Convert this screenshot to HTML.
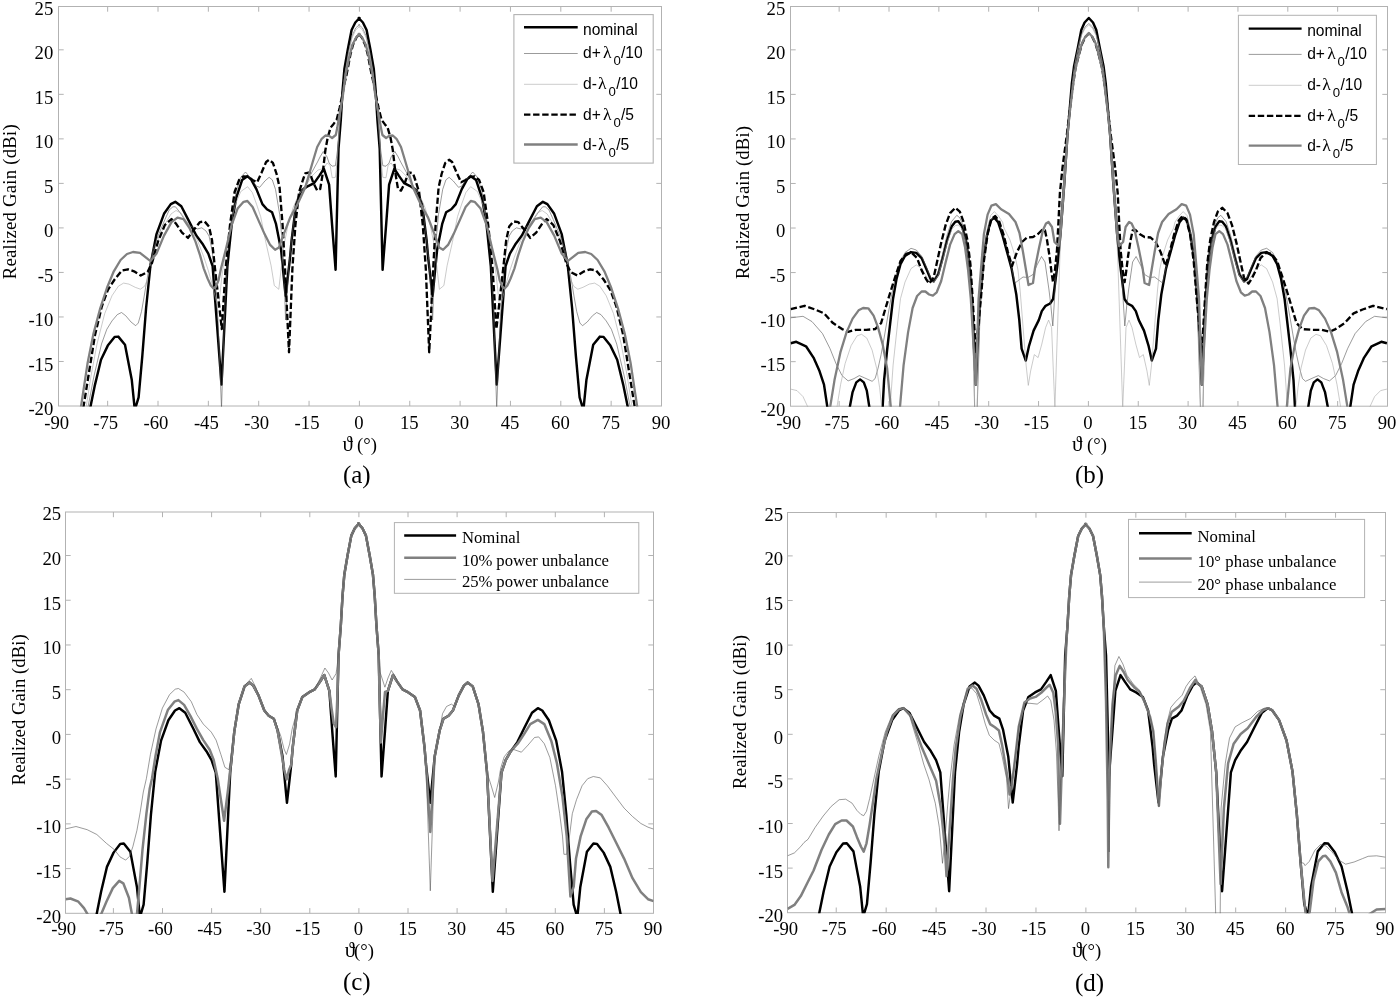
<!DOCTYPE html>
<html lang="en"><head><meta charset="utf-8"><title>Realized gain patterns</title>
<style>
html,body{margin:0;padding:0;background:#fff;}
svg{display:block;filter:grayscale(1)}
text{fill:#000}
.tk{font:18.7px 'Liberation Serif', serif;}
.lb{font:18.7px 'Liberation Serif', serif;}
.th{font:21px 'Liberation Serif', serif;}
.cp{font:25px 'Liberation Serif', serif;}
.lg{font:15.6px 'Liberation Sans', sans-serif;}
.lm{font:17.5px 'Liberation Serif', serif;}
.sb{font:13.2px 'Liberation Sans', sans-serif;}
.lc{font:16.7px 'Liberation Serif', serif;}
</style></head><body>
<svg width="1400" height="999" viewBox="0 0 1400 999">
<rect width="1400" height="999" fill="#fff"/>
<rect x="58.5" y="6.5" width="603" height="399.5" fill="none" stroke="#b2b2b2" stroke-width="1"/>
<path d="M107.65 406v-5.2M107.65 6.5v5.2M158 406v-5.2M158 6.5v5.2M208.35 406v-5.2M208.35 6.5v5.2M258.7 406v-5.2M258.7 6.5v5.2M309.05 406v-5.2M309.05 6.5v5.2M359.4 406v-5.2M359.4 6.5v5.2M409.75 406v-5.2M409.75 6.5v5.2M460.1 406v-5.2M460.1 6.5v5.2M510.45 406v-5.2M510.45 6.5v5.2M560.8 406v-5.2M560.8 6.5v5.2M611.15 406v-5.2M611.15 6.5v5.2M58.5 361.48h5.2M661.5 361.48h-5.2M58.5 316.96h5.2M661.5 316.96h-5.2M58.5 272.43h5.2M661.5 272.43h-5.2M58.5 227.91h5.2M661.5 227.91h-5.2M58.5 183.39h5.2M661.5 183.39h-5.2M58.5 138.87h5.2M661.5 138.87h-5.2M58.5 94.34h5.2M661.5 94.34h-5.2M58.5 49.82h5.2M661.5 49.82h-5.2" stroke="#b2b2b2" stroke-width="1" fill="none"/>
<text x="56.7" y="429" text-anchor="middle" class="tk">-90</text>
<text x="105.65" y="429" text-anchor="middle" class="tk">-75</text>
<text x="156" y="429" text-anchor="middle" class="tk">-60</text>
<text x="206.35" y="429" text-anchor="middle" class="tk">-45</text>
<text x="256.7" y="429" text-anchor="middle" class="tk">-30</text>
<text x="307.05" y="429" text-anchor="middle" class="tk">-15</text>
<text x="359" y="429" text-anchor="middle" class="tk">0</text>
<text x="409.35" y="429" text-anchor="middle" class="tk">15</text>
<text x="459.7" y="429" text-anchor="middle" class="tk">30</text>
<text x="510.05" y="429" text-anchor="middle" class="tk">45</text>
<text x="560.4" y="429" text-anchor="middle" class="tk">60</text>
<text x="610.75" y="429" text-anchor="middle" class="tk">75</text>
<text x="661.1" y="429" text-anchor="middle" class="tk">90</text>
<text x="53.3" y="415.4" text-anchor="end" class="tk">-20</text>
<text x="53.3" y="370.88" text-anchor="end" class="tk">-15</text>
<text x="53.3" y="326.36" text-anchor="end" class="tk">-10</text>
<text x="53.3" y="281.83" text-anchor="end" class="tk">-5</text>
<text x="53.3" y="237.31" text-anchor="end" class="tk">0</text>
<text x="53.3" y="192.79" text-anchor="end" class="tk">5</text>
<text x="53.3" y="148.27" text-anchor="end" class="tk">10</text>
<text x="53.3" y="103.74" text-anchor="end" class="tk">15</text>
<text x="53.3" y="59.22" text-anchor="end" class="tk">20</text>
<text x="53.3" y="14.7" text-anchor="end" class="tk">25</text>
<rect x="790.5" y="6.5" width="597" height="399.7" fill="none" stroke="#b2b2b2" stroke-width="1"/>
<path d="M839.15 406.2v-5.2M839.15 6.5v5.2M889 406.2v-5.2M889 6.5v5.2M938.85 406.2v-5.2M938.85 6.5v5.2M988.7 406.2v-5.2M988.7 6.5v5.2M1038.55 406.2v-5.2M1038.55 6.5v5.2M1088.4 406.2v-5.2M1088.4 6.5v5.2M1138.25 406.2v-5.2M1138.25 6.5v5.2M1188.1 406.2v-5.2M1188.1 6.5v5.2M1237.95 406.2v-5.2M1237.95 6.5v5.2M1287.8 406.2v-5.2M1287.8 6.5v5.2M1337.65 406.2v-5.2M1337.65 6.5v5.2M790.5 361.66h5.2M1387.5 361.66h-5.2M790.5 317.11h5.2M1387.5 317.11h-5.2M790.5 272.57h5.2M1387.5 272.57h-5.2M790.5 228.02h5.2M1387.5 228.02h-5.2M790.5 183.48h5.2M1387.5 183.48h-5.2M790.5 138.93h5.2M1387.5 138.93h-5.2M790.5 94.39h5.2M1387.5 94.39h-5.2M790.5 49.84h5.2M1387.5 49.84h-5.2" stroke="#b2b2b2" stroke-width="1" fill="none"/>
<text x="788.7" y="429" text-anchor="middle" class="tk">-90</text>
<text x="837.15" y="429" text-anchor="middle" class="tk">-75</text>
<text x="887" y="429" text-anchor="middle" class="tk">-60</text>
<text x="936.85" y="429" text-anchor="middle" class="tk">-45</text>
<text x="986.7" y="429" text-anchor="middle" class="tk">-30</text>
<text x="1036.55" y="429" text-anchor="middle" class="tk">-15</text>
<text x="1088" y="429" text-anchor="middle" class="tk">0</text>
<text x="1137.85" y="429" text-anchor="middle" class="tk">15</text>
<text x="1187.7" y="429" text-anchor="middle" class="tk">30</text>
<text x="1237.55" y="429" text-anchor="middle" class="tk">45</text>
<text x="1287.4" y="429" text-anchor="middle" class="tk">60</text>
<text x="1337.25" y="429" text-anchor="middle" class="tk">75</text>
<text x="1387.1" y="429" text-anchor="middle" class="tk">90</text>
<text x="785.3" y="415.6" text-anchor="end" class="tk">-20</text>
<text x="785.3" y="371.06" text-anchor="end" class="tk">-15</text>
<text x="785.3" y="326.51" text-anchor="end" class="tk">-10</text>
<text x="785.3" y="281.97" text-anchor="end" class="tk">-5</text>
<text x="785.3" y="237.42" text-anchor="end" class="tk">0</text>
<text x="785.3" y="192.88" text-anchor="end" class="tk">5</text>
<text x="785.3" y="148.33" text-anchor="end" class="tk">10</text>
<text x="785.3" y="103.79" text-anchor="end" class="tk">15</text>
<text x="785.3" y="59.24" text-anchor="end" class="tk">20</text>
<text x="785.3" y="14.7" text-anchor="end" class="tk">25</text>
<rect x="65.5" y="512" width="588" height="401.3" fill="none" stroke="#b2b2b2" stroke-width="1"/>
<path d="M113.4 913.3v-5.2M113.4 512v5.2M162.5 913.3v-5.2M162.5 512v5.2M211.6 913.3v-5.2M211.6 512v5.2M260.7 913.3v-5.2M260.7 512v5.2M309.8 913.3v-5.2M309.8 512v5.2M358.9 913.3v-5.2M358.9 512v5.2M408 913.3v-5.2M408 512v5.2M457.1 913.3v-5.2M457.1 512v5.2M506.2 913.3v-5.2M506.2 512v5.2M555.3 913.3v-5.2M555.3 512v5.2M604.4 913.3v-5.2M604.4 512v5.2M65.5 868.58h5.2M653.5 868.58h-5.2M65.5 823.86h5.2M653.5 823.86h-5.2M65.5 779.13h5.2M653.5 779.13h-5.2M65.5 734.41h5.2M653.5 734.41h-5.2M65.5 689.69h5.2M653.5 689.69h-5.2M65.5 644.97h5.2M653.5 644.97h-5.2M65.5 600.24h5.2M653.5 600.24h-5.2M65.5 555.52h5.2M653.5 555.52h-5.2" stroke="#b2b2b2" stroke-width="1" fill="none"/>
<text x="63.7" y="935" text-anchor="middle" class="tk">-90</text>
<text x="111.4" y="935" text-anchor="middle" class="tk">-75</text>
<text x="160.5" y="935" text-anchor="middle" class="tk">-60</text>
<text x="209.6" y="935" text-anchor="middle" class="tk">-45</text>
<text x="258.7" y="935" text-anchor="middle" class="tk">-30</text>
<text x="307.8" y="935" text-anchor="middle" class="tk">-15</text>
<text x="358.5" y="935" text-anchor="middle" class="tk">0</text>
<text x="407.6" y="935" text-anchor="middle" class="tk">15</text>
<text x="456.7" y="935" text-anchor="middle" class="tk">30</text>
<text x="505.8" y="935" text-anchor="middle" class="tk">45</text>
<text x="554.9" y="935" text-anchor="middle" class="tk">60</text>
<text x="604" y="935" text-anchor="middle" class="tk">75</text>
<text x="653.1" y="935" text-anchor="middle" class="tk">90</text>
<text x="61.1" y="922.7" text-anchor="end" class="tk">-20</text>
<text x="61.1" y="877.98" text-anchor="end" class="tk">-15</text>
<text x="61.1" y="833.26" text-anchor="end" class="tk">-10</text>
<text x="61.1" y="788.53" text-anchor="end" class="tk">-5</text>
<text x="61.1" y="743.81" text-anchor="end" class="tk">0</text>
<text x="61.1" y="699.09" text-anchor="end" class="tk">5</text>
<text x="61.1" y="654.37" text-anchor="end" class="tk">10</text>
<text x="61.1" y="609.64" text-anchor="end" class="tk">15</text>
<text x="61.1" y="564.92" text-anchor="end" class="tk">20</text>
<text x="61.1" y="520.2" text-anchor="end" class="tk">25</text>
<rect x="787.5" y="512.5" width="598" height="400.2" fill="none" stroke="#b2b2b2" stroke-width="1"/>
<path d="M836.23 912.7v-5.2M836.23 512.5v5.2M886.17 912.7v-5.2M886.17 512.5v5.2M936.1 912.7v-5.2M936.1 512.5v5.2M986.03 912.7v-5.2M986.03 512.5v5.2M1035.97 912.7v-5.2M1035.97 512.5v5.2M1085.9 912.7v-5.2M1085.9 512.5v5.2M1135.83 912.7v-5.2M1135.83 512.5v5.2M1185.77 912.7v-5.2M1185.77 512.5v5.2M1235.7 912.7v-5.2M1235.7 512.5v5.2M1285.63 912.7v-5.2M1285.63 512.5v5.2M1335.57 912.7v-5.2M1335.57 512.5v5.2M787.5 868.1h5.2M1385.5 868.1h-5.2M787.5 823.5h5.2M1385.5 823.5h-5.2M787.5 778.9h5.2M1385.5 778.9h-5.2M787.5 734.3h5.2M1385.5 734.3h-5.2M787.5 689.7h5.2M1385.5 689.7h-5.2M787.5 645.1h5.2M1385.5 645.1h-5.2M787.5 600.5h5.2M1385.5 600.5h-5.2M787.5 555.9h5.2M1385.5 555.9h-5.2" stroke="#b2b2b2" stroke-width="1" fill="none"/>
<text x="785.7" y="934.6" text-anchor="middle" class="tk">-90</text>
<text x="834.23" y="934.6" text-anchor="middle" class="tk">-75</text>
<text x="884.17" y="934.6" text-anchor="middle" class="tk">-60</text>
<text x="934.1" y="934.6" text-anchor="middle" class="tk">-45</text>
<text x="984.03" y="934.6" text-anchor="middle" class="tk">-30</text>
<text x="1033.97" y="934.6" text-anchor="middle" class="tk">-15</text>
<text x="1085.5" y="934.6" text-anchor="middle" class="tk">0</text>
<text x="1135.43" y="934.6" text-anchor="middle" class="tk">15</text>
<text x="1185.37" y="934.6" text-anchor="middle" class="tk">30</text>
<text x="1235.3" y="934.6" text-anchor="middle" class="tk">45</text>
<text x="1285.23" y="934.6" text-anchor="middle" class="tk">60</text>
<text x="1335.17" y="934.6" text-anchor="middle" class="tk">75</text>
<text x="1385.1" y="934.6" text-anchor="middle" class="tk">90</text>
<text x="783.1" y="922.1" text-anchor="end" class="tk">-20</text>
<text x="783.1" y="877.5" text-anchor="end" class="tk">-15</text>
<text x="783.1" y="832.9" text-anchor="end" class="tk">-10</text>
<text x="783.1" y="788.3" text-anchor="end" class="tk">-5</text>
<text x="783.1" y="743.7" text-anchor="end" class="tk">0</text>
<text x="783.1" y="699.1" text-anchor="end" class="tk">5</text>
<text x="783.1" y="654.5" text-anchor="end" class="tk">10</text>
<text x="783.1" y="609.9" text-anchor="end" class="tk">15</text>
<text x="783.1" y="565.3" text-anchor="end" class="tk">20</text>
<text x="783.1" y="520.7" text-anchor="end" class="tk">25</text>
<text transform="translate(16.2 201.8) rotate(-90)" text-anchor="middle" class="lb" textLength="155" lengthAdjust="spacing">Realized Gain (dBi)</text>
<text transform="translate(748.6 202.5) rotate(-90)" text-anchor="middle" class="lb" textLength="153" lengthAdjust="spacing">Realized Gain (dBi)</text>
<text transform="translate(24.8 709.8) rotate(-90)" text-anchor="middle" class="lb" textLength="151" lengthAdjust="spacing">Realized Gain (dBi)</text>
<text transform="translate(745.8 712) rotate(-90)" text-anchor="middle" class="lb" textLength="154" lengthAdjust="spacing">Realized Gain (dBi)</text>
<text x="342.6" y="450.7" class="th">ϑ</text><text x="357" y="450.7" class="lb">(°)</text>
<text x="1072.1" y="450.7" class="th">ϑ</text><text x="1087.1" y="450.7" class="lb">(°)</text>
<text x="344.8" y="957.4" class="th">ϑ</text><text x="354.1" y="957.4" class="lb">(°)</text>
<text x="1072.1" y="957" class="th">ϑ</text><text x="1081.4" y="957" class="lb">(°)</text>
<text x="356.8" y="482.9" text-anchor="middle" class="cp">(a)</text>
<text x="1089.6" y="482.9" text-anchor="middle" class="cp">(b)</text>
<text x="356.8" y="990.4" text-anchor="middle" class="cp">(c)</text>
<text x="1089.6" y="991" text-anchor="middle" class="cp">(d)</text>
<clipPath id="cla"><rect x="58.5" y="6.5" width="603" height="400.1"/></clipPath>
<g clip-path="url(#cla)" fill="none" stroke-linejoin="round">
<path d="M90.2 408L95 384.6L101 359.8L107.8 345.6L114.6 336.9L118.3 336.6L125 344.8L131.8 380.1L134.8 410L138.6 397.4L142.3 356.1L146.1 308L150.5 265L156.5 234.1L164 213.8L170.8 204.1L175.3 201.8L181.3 206.3L189.5 222.1L196.3 235.6L203 244.6L208.3 253.6L212.6 266L221.5 384.6L227.4 266L231.6 225.1L236.1 198.1L242.1 180.1L247.4 176.3L251.1 179.3L256.4 189.1L262.4 204.1L266.9 209.3L272.1 212.3L275.9 223.6L281.1 250L285.6 296L290 258L291.6 240.1L296.1 204.1L301.4 190.6L308.1 186.1L314.1 183.1L319.4 175.6L323.9 168.8L329.1 184.6L332.1 225.1L335.6 269.8L338.5 149L340.8 120L342.6 90L344.4 69L347.8 49.5L351.6 30L355.3 22.5L359.5 18L358.7 18L362.9 22.5L366.6 30L370.4 49.5L373.8 69L375.6 90L377.4 120L379.7 149L382.6 269.8L386.1 225.1L389.1 184.6L394.3 168.8L398.8 175.6L404.1 183.1L410.1 186.1L416.8 190.6L422.1 204.1L426.6 240.1L428.2 258L432.6 296L437.1 250L442.3 223.6L446.1 212.3L451.3 209.3L455.8 204.1L461.8 189.1L467.1 179.3L470.8 176.3L476.1 180.1L482.1 198.1L486.6 225.1L490.8 266L496.7 384.6L505.6 266L509.9 253.6L515.2 244.6L521.9 235.6L528.7 222.1L536.9 206.3L542.9 201.8L547.4 204.1L554.2 213.8L561.7 234.1L567.7 265L572.1 308L575.9 356.1L579.6 397.4L583.4 410L586.4 380.1L593.2 344.8L599.9 336.6L603.6 336.9L610.4 345.6L617.2 359.8L623.2 384.6L628 408" stroke="#000" stroke-width="2.45"/>
<path d="M87.8 408L94 376L101.5 344L106.8 329.3L112 320.9L117.3 314.6L121.5 312.5L125.7 315.7L131 322L135.7 325.7L138.3 323L141.5 311.5L144.1 296.8L146.2 284.1L149.5 266L153 250L158 236L165 219.4L169.2 210L172.9 206.8L175.5 206.8L179.7 212.1L183.9 218.4L190 226L197.6 228.9L201.8 227.8L206 231L209.1 236.2L212 250L215 275L218 320L221.5 408L225 300L228 250L232 215L236.5 190L241 177L245.5 172L251.3 178.9L256.5 186.2L259.7 187.3L264.9 181L269.1 177.3L272.3 179.9L275.5 189.4L277.6 202L279.7 214.6L283 250L285.6 320L289 265L292 235L296 205L301 190L305 186L312 172L317.5 162L320.1 156.8L323.3 151.5L327 156.8L329.1 163L332.2 166.2L335.4 165.7L337.5 150L340 118L342.6 94L345 72L348.5 52L352 36L355.7 28L359.5 24.5L358.7 24.5L362.5 28L366.2 36L369.7 52L373.2 72L375.6 94L378.2 118L380.7 150L382.8 165.7L386 166.2L389.1 163L391.2 156.8L394.9 151.5L398.1 156.8L400.7 162L406.2 172L413.2 186L417.2 190L422.2 205L426.2 235L429.2 265L432.6 320L435.2 250L438.5 214.6L440.6 202L442.7 189.4L445.9 179.9L449.1 177.3L453.3 181L458.5 187.3L461.7 186.2L466.9 178.9L472.7 172L477.2 177L481.7 190L486.2 215L490.2 250L493.2 300L496.7 408L500.2 320L503.2 275L506.2 250L509.1 236.2L512.2 231L516.4 227.8L520.6 228.9L528.2 226L534.3 218.4L538.5 212.1L542.7 206.8L545.3 206.8L549 210L553.2 219.4L560.2 236L565.2 250L568.7 266L572 284.1L574.1 296.8L576.7 311.5L579.9 323L582.5 325.7L587.2 322L592.5 315.7L596.7 312.5L600.9 314.6L606.2 320.9L611.4 329.3L616.7 344L624.2 376L630.4 408" stroke="#585858" stroke-width="0.6"/>
<path d="M86 408L91 376L97 344L104.7 313.6L112 295.7L118.4 286.2L123.6 283.1L128.9 284.1L135.2 287.3L140.4 289.2L144.6 286.2L147.3 279.9L150 266L154 251L159 238L165 224L171 214L176 210.5L181 213L187 222L192 231L197.6 240.5L203.9 257.3L208.1 269.9L212.3 284.6L216 300L218.5 308L222 275L227 245L231 222L235.5 204L240.8 191.5L247.6 186.7L252.3 192.5L256.5 204.1L260.7 216.7L265.9 242.6L271.1 265.7L274.3 285.5L278.8 289.3L281 270L284 245L288 225L293 208L299 194L305 187L312 176L318 170L323.8 168.4L327 163L330.1 165.2L332.2 177.8L335.4 177.3L337.2 160L339.5 125L342 98L345 74L348.5 53L352 38L355.7 30L359.5 26.5L358.7 26.5L362.5 30L366.2 38L369.7 53L373.2 74L376.2 98L378.7 125L381 160L382.8 177.3L386 177.8L388.1 165.2L391.2 163L394.4 168.4L400.2 170L406.2 176L413.2 187L419.2 194L425.2 208L430.2 225L434.2 245L437.2 270L439.4 289.3L443.9 285.5L447.1 265.7L452.3 242.6L457.5 216.7L461.7 204.1L465.9 192.5L470.6 186.7L477.4 191.5L482.7 204L487.2 222L491.2 245L496.2 275L499.7 308L502.2 300L505.9 284.6L510.1 269.9L514.3 257.3L520.6 240.5L526.2 231L531.2 222L537.2 213L542.2 210.5L547.2 214L553.2 224L559.2 238L564.2 251L568.2 266L570.9 279.9L573.6 286.2L577.8 289.2L583 287.3L589.3 284.1L594.6 283.1L599.8 286.2L606.2 295.7L613.5 313.6L621.2 344L627.2 376L632.2 408" stroke="#a8a8a8" stroke-width="0.6"/>
<path d="M83.3 408L95 335L101.8 306.5L107.8 290L114.6 279.5L122 270.5L128 269.3L134 271.3L140.8 275.5L147.6 272L152 263L158 241.6L164.8 225.1L171.5 219.1L176 223.6L182 232.6L188 237.9L194 229.6L200 222.1L204.6 221.4L209 226.6L212 240.1L215 268.6L221.8 329L225.6 268.6L230 225L234.6 192L239.1 180L243.6 176.3L248.1 176.8L252.6 180L257.1 182.3L261.6 172.5L266.1 162L269.1 159.8L272.9 162.8L276.6 174L279.6 187.6L282.6 225L285 268.6L289 352.3L292.4 268.6L295.4 225L299.1 192L302.9 180L305.2 173.3L309.7 172.3L313.4 183L317.2 190.6L320.2 189L322.4 175.6L325.4 150L327.6 138L330.6 127.6L333.6 123.9L336.6 120L339.6 108L342.4 95L344.3 84L346.5 75L348.8 63L350.3 55L352.9 45L356.4 37.5L359.5 33.8L358.7 33.8L361.8 37.5L365.3 45L367.9 55L369.4 63L371.7 75L373.9 84L375.8 95L378.6 108L381.6 120L384.6 123.9L387.6 127.6L390.6 138L392.8 150L395.8 175.6L398 189L401 190.6L404.8 183L408.5 172.3L413 173.3L415.3 180L419.1 192L422.8 225L425.8 268.6L429.2 352.3L433.2 268.6L435.6 225L438.6 187.6L441.6 174L445.3 162.8L449.1 159.8L452.1 162L456.6 172.5L461.1 182.3L465.6 180L470.1 176.8L474.6 176.3L479.1 180L483.6 192L488.2 225L492.6 268.6L496.4 329L503.2 268.6L506.2 240.1L509.2 226.6L513.6 221.4L518.2 222.1L524.2 229.6L530.2 237.9L536.2 232.6L542.2 223.6L546.7 219.1L553.4 225.1L560.2 241.6L566.2 263L570.6 272L577.4 275.5L584.2 271.3L590.2 269.3L596.2 270.5L603.6 279.5L610.4 290L616.4 306.5L623.2 335L634.9 408" stroke="#000" stroke-width="2.35" stroke-dasharray="6.4 2.7"/>
<path d="M80.8 408L87.5 363.6L93.5 333.6L100.3 308L107 287.8L113.8 271.3L120.6 260L127 254L133 252L140 252.9L150.5 261.1L156.5 253.6L164 235.6L171.5 222.1L177.5 217.6L183.5 219.1L189.5 228.1L195.5 241.6L200 255.1L203.8 268.6L207.6 278.5L210.8 285.5L213.5 288.5L216 286.5L218.6 280L221 268.6L226.3 247.6L231.6 225L237.6 208.6L243.6 201.8L247.4 201L252.6 207L258.6 220.6L264.6 234.1L269.9 244.6L275.1 249.8L278.9 247.6L282.6 237.1L290.1 217.6L297.6 204.1L305.2 187.6L312.7 162L317.2 147L321.7 138.8L325.4 135.5L329.1 135.9L332.1 138L335.8 135L337.3 127.6L339.6 114L342.6 97.6L345.6 75L349.3 57L352.3 45L356.1 37.5L359.5 33.8L358.7 33.8L362.1 37.5L365.9 45L368.9 57L372.6 75L375.6 97.6L378.6 114L380.9 127.6L382.4 135L386.1 138L389.1 135.9L392.8 135.5L396.5 138.8L401 147L405.5 162L413 187.6L420.6 204.1L428.1 217.6L435.6 237.1L439.3 247.6L443.1 249.8L448.3 244.6L453.6 234.1L459.6 220.6L465.6 207L470.8 201L474.6 201.8L480.6 208.6L486.6 225L491.9 247.6L497.2 268.6L499.6 280L502.2 286.5L504.7 288.5L507.4 285.5L510.6 278.5L514.4 268.6L518.2 255.1L522.7 241.6L528.7 228.1L534.7 219.1L540.7 217.6L546.7 222.1L554.2 235.6L561.7 253.6L567.7 261.1L578.2 252.9L585.2 252L591.2 254L597.6 260L604.4 271.3L611.2 287.8L617.9 308L624.7 333.6L630.7 363.6L637.4 408" stroke="#808080" stroke-width="2.3"/>
</g>
<clipPath id="clb"><rect x="790.5" y="6.5" width="597" height="400.3"/></clipPath>
<g clip-path="url(#clb)" fill="none" stroke-linejoin="round">
<path d="M790.7 343.3L796.3 341.8L806 346.3L813.5 357.6L819.5 371.1L824 384.6L827.5 408L838 440L849.6 408L852.6 392.1L856.3 382.4L860.1 379.4L863.8 382.4L866.8 390.6L869.5 408L876 440L882.6 408L884.1 380.1L887.1 350.1L890.1 324L893 299L896.5 279L900.5 264.1L905 255.9L911 252.1L916.3 252.9L921.6 258.1L926.8 270.1L930.6 279.1L933.6 281.4L938.1 274.6L942.6 258.1L947.1 240.1L951.6 226.6L955.3 221.8L958.3 221.3L962.1 226.6L965.9 240.1L968.9 261.1L971.9 298.6L975.8 384.6L980.1 298.6L983.1 261.1L986.9 235.6L990.6 220.6L994.4 217.6L998.1 222.1L1002.6 235.6L1007.1 252.1L1011.6 268.6L1016.3 294.5L1019.3 320.1L1021.6 348.6L1025.8 360.6L1029.1 345.6L1033.6 330.6L1038.8 320.1L1041.8 311.1L1045.6 305.8L1050.1 303.5L1053.1 299L1055.5 280L1058 260L1060.5 234L1064.4 182L1067.5 135L1069.3 114L1071.8 84L1074.1 66L1077.8 48L1081.3 30L1084.6 22.5L1088.8 18L1093 22.5L1096.3 30L1099.8 48L1103.5 66L1105.8 84L1108.3 114L1110.1 135L1113.2 182L1117.1 234L1119.6 260L1122.1 280L1124.5 299L1127.5 303.5L1132 305.8L1135.8 311.1L1138.8 320.1L1144 330.6L1148.5 345.6L1151.8 360.6L1156 348.6L1158.3 320.1L1161.3 294.5L1166 268.6L1170.5 252.1L1175 235.6L1179.5 222.1L1183.2 217.6L1187 220.6L1190.7 235.6L1194.5 261.1L1197.5 298.6L1201.8 384.6L1205.7 298.6L1208.7 261.1L1211.7 240.1L1215.5 226.6L1219.3 221.3L1222.3 221.8L1226 226.6L1230.5 240.1L1235 258.1L1239.5 274.6L1244 281.4L1247 279.1L1250.8 270.1L1256 258.1L1261.3 252.9L1266.6 252.1L1272.6 255.9L1277.1 264.1L1281.1 279L1284.6 299L1287.5 324L1290.5 350.1L1293.5 380.1L1295 408L1301.6 440L1308.1 408L1310.8 390.6L1313.8 382.4L1317.5 379.4L1321.3 382.4L1325 392.1L1328 408L1339.6 440L1350.1 408L1353.6 384.6L1358.1 371.1L1364.1 357.6L1371.6 346.3L1381.3 341.8L1386.9 343.3" stroke="#000" stroke-width="2.45"/>
<path d="M790.7 317.8L803 316.3L812 321.6L822.5 333.6L830 348.6L836 363.6L842 375.6L848.1 380.9L854 378.6L859.3 375.6L864.6 377.9L872.1 381.3L875.1 378.6L878.1 368.1L881.1 354.6L884.1 338L887.5 318L891 298L895 279L900 262L905 252.5L911 248.3L916.3 250L921.6 256L926.8 268L930.6 277.5L933.6 280L938.1 272L942.6 254L947.1 235L951.6 221.5L956.8 215.3L960 218L963.5 227L967 242L970 264L972.3 298.6L974.6 408L977.2 408L980.5 298.6L983.5 261.1L987.2 235L991 220L994.8 216.6L998.5 221L1003 234.5L1007.5 251L1011.5 267L1015 283L1023 277L1028 277.5L1033 274.5L1037 265L1041.5 256.5L1045 262L1047 276L1049 290L1050.8 305L1052.8 326L1054.6 297.5L1056.8 260L1059 235L1062 200L1066 150L1069.3 112L1072 86L1074.5 66L1078 48L1081.5 34L1085 27L1088.8 23.5L1092.6 27L1096.1 34L1099.6 48L1103.1 66L1105.6 86L1108.3 112L1111.6 150L1115.6 200L1118.6 235L1120.8 260L1123 297.5L1124.8 326L1126.8 305L1128.6 290L1130.6 276L1132.6 262L1136.1 256.5L1140.6 265L1144.6 274.5L1149.6 277.5L1154.6 277L1162.6 283L1166.1 267L1170.1 251L1174.6 234.5L1179.1 221L1182.8 216.6L1186.6 220L1190.4 235L1194.1 261.1L1197.1 298.6L1200.4 408L1203 408L1205.3 298.6L1207.6 264L1210.6 242L1214.1 227L1217.6 218L1220.8 215.3L1226 221.5L1230.5 235L1235 254L1239.5 272L1244 280L1247 277.5L1250.8 268L1256 256L1261.3 250L1266.6 248.3L1272.6 252.5L1277.6 262L1282.6 279L1286.6 298L1290.1 318L1293.5 338L1296.5 354.6L1299.5 368.1L1302.5 378.6L1305.5 381.3L1313 377.9L1318.3 375.6L1323.6 378.6L1329.5 380.9L1335.6 375.6L1341.6 363.6L1347.6 348.6L1355.1 333.6L1365.6 321.6L1374.6 316.3L1386.9 317.8" stroke="#585858" stroke-width="0.6"/>
<path d="M790.7 389.1L797 390.6L803 396.6L808.3 408L822 440L836.8 408L840.6 384.6L845.1 363.6L851.1 345.6L857.1 335.8L861.6 334.3L866.8 338.1L872.1 350.1L876.6 368.1L879.6 387.6L881.8 408L886 440L890.1 408L893.1 365.1L897.6 323.1L900.5 298.6L905 282.1L911 268.6L916.3 264.9L921.6 268.6L926.1 276.1L930.6 282.1L934 282L938.5 275L943 259L947.5 241.5L952 229L955.5 225.5L958.5 225L962 229L965.5 241L968.7 261.1L971.7 298.6L974.8 408L977 408L980.3 298.6L983.3 258L987 230L990.6 215.5L994.4 211.6L998.5 216L1002.6 222.1L1004 228L1010 240L1015 256L1018 270L1020.1 290L1023.1 327.6L1026.1 365.1L1028.3 385.4L1030.6 371.1L1034.3 354.6L1038.1 357.6L1041.8 344.1L1045.6 327.6L1048.6 320.1L1051.6 327.6L1053.1 365.1L1054.9 408L1056.8 350L1058.3 305L1059.8 260L1061 230L1063.5 190L1067 142L1069.5 112L1072 87L1074.5 67L1078 49L1081.5 35.5L1085 28.5L1088.8 25L1092.6 28.5L1096.1 35.5L1099.6 49L1103.1 67L1105.6 87L1108.1 112L1110.6 142L1114.1 190L1116.6 230L1117.8 260L1119.3 305L1120.8 350L1122.7 408L1124.5 365.1L1126 327.6L1129 320.1L1132 327.6L1135.8 344.1L1139.5 357.6L1143.3 354.6L1147 371.1L1149.3 385.4L1151.5 365.1L1154.5 327.6L1157.5 290L1159.6 270L1162.6 256L1167.6 240L1173.6 228L1175 222.1L1179.1 216L1183.2 211.6L1187 215.5L1190.6 230L1194.3 258L1197.3 298.6L1200.6 408L1202.8 408L1205.9 298.6L1208.9 261.1L1212.1 241L1215.6 229L1219.1 225L1222.1 225.5L1225.6 229L1230.1 241.5L1234.6 259L1239.1 275L1243.6 282L1247 282.1L1251.5 276.1L1256 268.6L1261.3 264.9L1266.6 268.6L1272.6 282.1L1277.1 298.6L1280 323.1L1284.5 365.1L1287.5 408L1291.6 440L1295.8 408L1298 387.6L1301 368.1L1305.5 350.1L1310.8 338.1L1316 334.3L1320.5 335.8L1326.5 345.6L1332.5 363.6L1337 384.6L1340.8 408L1355.6 440L1369.3 408L1374.6 396.6L1380.6 390.6L1386.9 389.1" stroke="#a8a8a8" stroke-width="0.6"/>
<path d="M790.7 309.2L804.5 305.8L815 309.5L824 313.3L833 323.1L842.1 329.1L848.1 331.8L855.6 329.8L866.1 329.8L875.1 329.1L881.1 323.1L885.6 308L890.1 293L894.5 279.1L900.5 261.1L906.5 253.6L911.8 252.9L917.1 258.1L921.6 270.1L926.1 279.1L929.1 283.6L933.6 277.6L936.6 264.1L941.1 243.1L945.6 225.1L950.1 213.1L955.3 207.8L959.8 211.6L963.6 222.1L967.4 240.1L970.4 264.1L972.6 298.6L975.8 352L980.9 298.6L983.9 261.1L987.6 234.1L991.4 219.1L995.1 216.1L998.9 220.6L1003.4 234.1L1007.9 252.1L1012 266L1017 252L1022 242L1027 237.5L1033 237L1038 234L1042 230L1045 230.5L1047 240L1049.5 256L1051.5 272L1053 282L1055 270L1057 250L1058.3 225L1059.9 193L1062.6 166.8L1066.8 135.3L1069.5 112L1072.5 88L1075.5 68L1078.8 55L1082 44L1085.3 37L1088.8 33.5L1092.3 37L1095.6 44L1098.8 55L1102.1 68L1105.1 88L1108.1 112L1110.8 135.3L1115 166.8L1117.7 193L1119.3 225L1120.6 250L1122.6 270L1124.6 282L1126.1 272L1128.1 256L1130.6 240L1132.6 230.5L1135.6 230L1139.6 234L1144.6 237L1150.6 237.5L1155.6 242L1160.6 252L1165.6 266L1169.7 252.1L1174.2 234.1L1178.7 220.6L1182.5 216.1L1186.2 219.1L1190 234.1L1193.7 261.1L1196.7 298.6L1201.8 352L1205 298.6L1207.2 264.1L1210.2 240.1L1214 222.1L1217.8 211.6L1222.3 207.8L1227.5 213.1L1232 225.1L1236.5 243.1L1241 264.1L1244 277.6L1248.5 283.6L1251.5 279.1L1256 270.1L1260.5 258.1L1265.8 252.9L1271.1 253.6L1277.1 261.1L1283.1 279.1L1287.5 293L1292 308L1296.5 323.1L1302.5 329.1L1311.5 329.8L1322 329.8L1329.5 331.8L1335.5 329.1L1344.6 323.1L1353.6 313.3L1362.6 309.5L1373.1 305.8L1386.9 309.2" stroke="#000" stroke-width="2.35" stroke-dasharray="6.4 2.7"/>
<path d="M830 408L834.5 380.1L840.6 351.6L846.6 332.1L852.6 318.6L858.6 310.3L863.1 308L868.3 308.3L873.6 315.6L878.1 327.6L882.6 344.1L887.1 368.1L890.9 408L895 440L899.9 408L903.6 365.1L908.1 332.1L912.6 308L917.1 296L921.6 291.5L925.4 291.5L929.1 294.5L932.9 295.7L936.7 292.3L941.2 281L945.6 262.6L950.1 244.6L954.6 234.1L958.3 231.1L962.1 234.1L965.1 247.6L968.1 270.1L970.8 298.6L975.8 384.6L978.6 298.6L980.9 270.1L983.9 234.1L987.6 214.6L991.4 205.6L995.9 204.1L1001.1 209.3L1009 214L1015.5 222L1019.5 233L1023 252L1026 270L1028.5 285L1033 283L1035 268L1039 248L1043 230L1046 223.5L1048.5 222L1052 227L1054.5 242L1058.5 246L1060.5 234L1064.4 182L1067.5 135L1069.8 112L1072.5 90L1074.8 72L1078.6 55.6L1081.9 43.5L1085.3 36.8L1088.8 33L1092.3 36.8L1095.7 43.5L1099 55.6L1102.8 72L1105.1 90L1107.8 112L1110.1 135L1113.2 182L1117.1 234L1119.1 246L1123.1 242L1125.6 227L1129.1 222L1131.6 223.5L1134.6 230L1138.6 248L1142.6 268L1144.6 283L1149.1 285L1151.6 270L1154.6 252L1158.1 233L1162.1 222L1168.6 214L1176.5 209.3L1181.7 204.1L1186.2 205.6L1190 214.6L1193.7 234.1L1196.7 270.1L1199 298.6L1201.8 384.6L1206.8 298.6L1209.5 270.1L1212.5 247.6L1215.5 234.1L1219.3 231.1L1223 234.1L1227.5 244.6L1232 262.6L1236.4 281L1240.9 292.3L1244.7 295.7L1248.5 294.5L1252.2 291.5L1256 291.5L1260.5 296L1265 308L1269.5 332.1L1274 365.1L1277.7 408L1282.6 440L1286.7 408L1290.5 368.1L1295 344.1L1299.5 327.6L1304 315.6L1309.3 308.3L1314.5 308L1319 310.3L1325 318.6L1331 332.1L1337 351.6L1343.1 380.1L1347.6 408" stroke="#808080" stroke-width="2.3"/>
</g>
<clipPath id="clc"><rect x="65.5" y="512" width="588" height="401.9"/></clipPath>
<g clip-path="url(#clc)" fill="none" stroke-linejoin="round">
<path d="M96.41 915.31L101.09 891.8L106.94 866.89L113.57 852.63L120.2 843.89L123.81 843.59L130.35 851.82L136.98 887.28L139.9 917.32L143.61 904.66L147.22 863.18L150.92 814.86L155.21 771.66L161.06 740.63L168.38 720.23L175.01 710.49L179.39 708.18L185.25 712.7L193.24 728.57L199.87 742.13L206.41 751.17L211.57 760.21L215.77 772.67L224.45 891.8L230.2 772.67L234.29 731.58L238.68 704.46L244.53 686.38L249.7 682.57L253.31 685.58L258.48 695.42L264.33 710.49L268.72 715.71L273.79 718.73L277.49 730.08L282.56 756.6L286.95 802.8L291.24 764.63L292.8 746.65L297.19 710.49L302.36 696.93L308.89 692.41L314.74 689.4L319.91 681.86L324.3 675.03L329.37 690.9L332.29 731.58L335.71 776.49L338.53 655.14L340.78 626.01L342.53 595.88L344.29 574.78L347.6 555.19L351.31 535.61L354.92 528.07L359.01 523.55L358.23 523.55L362.33 528.07L365.94 535.61L369.64 555.19L372.96 574.78L374.71 595.88L376.47 626.01L378.71 655.14L381.54 776.49L384.95 731.58L387.88 690.9L392.95 675.03L397.33 681.86L402.5 689.4L408.35 692.41L414.89 696.93L420.06 710.49L424.44 746.65L426 764.63L430.29 802.8L434.68 756.6L439.75 730.08L443.46 718.73L448.53 715.71L452.92 710.49L458.77 695.42L463.94 685.58L467.54 682.57L472.71 686.38L478.56 704.46L482.95 731.58L487.05 772.67L492.8 891.8L501.48 772.67L505.67 760.21L510.84 751.17L517.37 742.13L524 728.57L532 712.7L537.85 708.18L542.24 710.49L548.87 720.23L556.18 740.63L562.03 771.66L566.32 814.86L570.03 863.18L573.64 904.66L577.34 917.32L580.27 887.28L586.9 851.82L593.43 843.59L597.04 843.89L603.67 852.63L610.3 866.89L616.15 891.8L620.83 915.31" stroke="#000" stroke-width="2.45"/>
<path d="M65.6 899.3L70.4 898.5L78.4 901.7L84 908.1L88 915L94 935L100.8 915L106.4 901.7L112.8 888.1L119.2 880.9L123.3 883.3L128.9 897.7L132.1 915L134.5 935L136.9 915L139.3 888.1L142.5 849.7L146.5 812.8L149.7 788.8L152 778.5L155.5 756L160 732.1L168 709.7L174.4 701.7L178.4 700.1L184.1 704.9L190.5 716.1L196.9 728.9L203.3 740.1L209.7 749.7L213.7 760L217.7 778.5L224.1 820.8L228 790L231.3 760L234.29 731.58L238.68 704.46L244.53 686.38L249.7 682.57L253.31 685.58L258.48 695.42L264.33 710.49L268.72 715.71L273.79 718.73L277.49 730.08L284.3 770L286.6 779.5L289 770L291.24 764.63L292.8 746.65L297.19 710.49L302.36 696.93L308.89 692.41L314.74 689.4L319.91 681.86L324.3 675.03L329.37 690.9L331.5 708L333.7 723.3L336.1 727.3L337.6 690L338.53 655.14L340.78 626.01L342.53 595.88L344.29 574.78L347.6 555.19L351.31 535.61L354.92 528.07L359.01 523.55L358.23 523.55L362.33 528.07L365.94 535.61L369.64 555.19L372.96 574.78L374.71 595.88L376.47 626.01L378.71 655.14L379.6 700L380.9 742.5L383 715L385 692L387.88 690.9L392.95 675.03L397.33 681.86L402.5 689.4L408.35 692.41L414.89 696.93L420.06 710.49L424.44 746.65L426 764.63L430.3 831.9L434.68 756.6L439.75 730.08L443.46 718.73L448.53 715.71L452.92 710.49L458.77 695.42L463.94 685.58L467.54 682.57L472.71 686.38L478.56 704.46L482.95 731.58L487.05 772.67L492.5 881L501.48 772.67L505.67 760.21L510.84 751.17L517.7 743.7L523.3 735.3L530.3 724.1L537.9 719.9L544.3 724.1L551.3 740.9L556.9 763.3L562.5 796.9L566.7 836.1L570.4 896.4L573.7 886.6L576 858.6L580.7 836.1L586.3 819.3L591.9 811.5L596.1 810.9L601.7 815.1L608.7 827.7L615.7 841.7L624.1 858.6L632.5 878.2L640.9 892.2L648 899.2L653.6 901.1" stroke="#808080" stroke-width="2.5"/>
<path d="M65.6 828.9L76 826.5L87.2 829.7L96.8 834.5L106.4 843.3L114.4 849.7L120 856.9L125.7 860.1L129.7 856.1L132.9 846.5L136.9 830.5L140.1 812.8L143.3 792L146.4 778.5L150.4 754.5L156 728.9L162.4 708.1L169.6 694.5L175.2 689.2L178.4 688.5L184.1 692.1L191.3 701.7L196.9 714.5L203.3 724.1L211.3 732.1L216.1 740.1L220.9 754.5L224.9 767.3L228.9 769.7L230.5 760.9L234.29 731.58L238.68 704.46L245.5 684.5L251.3 678.4L256.1 688L258.48 695.42L264.33 710.49L268.72 715.71L273.79 718.73L276 723.3L280.8 736.1L284 748.9L286.4 754.5L289.6 744.1L292 729.7L297.19 710.49L302.36 696.93L308.89 692.41L314.74 689.4L319.9 679L324.9 668L328.5 673L332.1 680L336.1 673.6L338.53 655.14L340.78 626.01L342.53 595.88L344.29 574.78L347.6 555.19L351.31 535.61L354.92 528.07L359.01 523.55L358.23 523.55L362.33 528.07L365.94 535.61L369.64 555.19L372.96 574.78L374.71 595.88L376.47 626.01L378.71 655.14L380 672L384.9 687.2L388 678L391.3 670.4L395 676L397.33 681.86L402.5 689.4L408.35 692.41L414.89 696.93L420.06 710.49L424.44 746.65L426 764.63L430.3 890.8L434.68 756.6L439.75 730.08L442.5 713.7L446.5 706.5L451.4 704.1L454.6 706.5L458.77 695.42L463.94 685.58L467.54 682.57L472.71 686.38L478.56 704.46L482.95 731.58L487.05 772.67L491 785L494.7 797.5L498.4 782L500.7 768.3L504.2 756.8L508.8 751L513.4 749.4L521.4 752.2L528 745.1L534.5 737.5L538.7 736.9L544.3 743.7L549.9 757.7L555.5 785.7L559.7 813.7L562.5 836.1L563.9 854.3L566.7 854.3L569.5 836.1L572.3 813.7L576.5 799.7L582.1 785.7L587.7 778.7L593.3 776.5L600.3 777.9L607.3 785.7L615.7 796.9L624.1 808.1L632.5 816.5L640.9 823.5L648 827.2L653.6 829.1" stroke="#585858" stroke-width="0.6"/>
</g>
<clipPath id="cld"><rect x="787.5" y="512.5" width="598" height="400.8"/></clipPath>
<g clip-path="url(#cld)" fill="none" stroke-linejoin="round">
<path d="M818.94 914.7L823.7 891.26L829.65 866.42L836.39 852.19L843.13 843.48L846.8 843.18L853.45 851.39L860.19 886.75L863.17 916.71L866.94 904.08L870.61 862.71L874.37 814.53L878.74 771.45L884.69 740.5L892.13 720.16L898.87 710.45L903.33 708.14L909.28 712.65L917.41 728.48L924.16 742L930.8 751.02L936.06 760.03L940.32 772.45L949.15 891.26L955 772.45L959.16 731.48L963.63 704.44L969.58 686.4L974.83 682.6L978.5 685.6L983.76 695.42L989.71 710.45L994.17 715.66L999.33 718.66L1003.1 729.98L1008.25 756.43L1012.72 802.51L1017.08 764.44L1018.67 746.51L1023.13 710.45L1028.39 696.92L1035.03 692.41L1040.98 689.41L1046.24 681.9L1050.7 675.08L1055.86 690.91L1058.83 731.48L1062.3 776.26L1065.18 655.25L1067.46 626.2L1069.24 596.15L1071.03 575.11L1074.4 555.58L1078.17 536.04L1081.84 528.53L1086 524.02L1085.21 524.02L1089.38 528.53L1093.05 536.04L1096.81 555.58L1100.19 575.11L1101.97 596.15L1103.76 626.2L1106.04 655.25L1108.91 776.26L1112.38 731.48L1115.36 690.91L1120.52 675.08L1124.98 681.9L1130.23 689.41L1136.18 692.41L1142.83 696.92L1148.09 710.45L1152.55 746.51L1154.13 764.44L1158.5 802.51L1162.96 756.43L1168.12 729.98L1171.89 718.66L1177.04 715.66L1181.51 710.45L1187.46 695.42L1192.71 685.6L1196.38 682.6L1201.64 686.4L1207.59 704.44L1212.05 731.48L1216.22 772.45L1222.07 891.26L1230.89 772.45L1235.16 760.03L1240.41 751.02L1247.06 742L1253.8 728.48L1261.93 712.65L1267.88 708.14L1272.35 710.45L1279.09 720.16L1286.53 740.5L1292.48 771.45L1296.84 814.53L1300.61 862.71L1304.28 904.08L1308.05 916.71L1311.02 886.75L1317.77 851.39L1324.41 843.18L1328.08 843.48L1334.82 852.19L1341.57 866.42L1347.52 891.26L1352.28 914.7" stroke="#000" stroke-width="2.45"/>
<path d="M787.5 908.9L794.4 904.9L800.8 896.1L807.2 883.3L813.6 870.5L821.6 849.7L828.8 834.5L835.2 824.1L841.6 820.5L846.5 820.5L852.9 826.5L856.9 836.9L860.9 846.5L863.7 851.6L866.5 843.3L869.7 824.1L874.5 792L876.4 778.5L881.2 756.1L886.8 732.1L893.2 715.3L898.8 709.3L903.6 708.1L910.8 716.1L917.3 735.3L922.1 748.1L926.9 759.3L931.7 770.5L936.1 780.8L940.9 808L944.9 848.1L946.5 876.1L948.9 840.1L950.8 812L953 778.5L955.7 748.1L960.5 716.1L967.7 688.8L972.5 685.6L976.5 688.8L981.3 700.1L986.1 714.5L990.1 724.1L994.9 727.3L998.9 730.5L1002.1 744.9L1005.3 764.1L1007.7 778.5L1009.6 794.5L1011.5 786L1014 768.1L1018.8 726.5L1024.4 702.5L1030 698.5L1035.6 696.9L1041.2 692.8L1046 688L1049.6 684.8L1053.3 692.8L1055.7 712.1L1058.1 744.1L1059.2 798.5L1060 823.7L1062 760L1064 700L1066.5 640L1067.46 626.2L1069.24 596.15L1071.03 575.11L1074.4 555.58L1078.17 536.04L1081.84 528.53L1086 524.02L1085.21 524.02L1089.38 528.53L1093.05 536.04L1096.81 555.58L1100.19 575.11L1101.97 596.15L1103.76 626.2L1106 700L1107.7 798.5L1108.3 867.3L1109 800L1110.1 752.1L1112.5 704.1L1115.7 675.2L1119.7 665.9L1123.7 672L1127.7 680L1134.1 687.2L1139.7 692L1144.5 701.6L1150.1 716.9L1153.3 731.3L1155.7 760.1L1158.9 806L1161.5 770L1164.5 744L1167.7 723.3L1171.7 712.1L1178.9 706.5L1183.7 700.8L1190 688L1195.5 679.8L1196.38 682.6L1201.64 686.4L1207.59 704.44L1212.05 731.48L1216.22 772.45L1220.6 884L1223.9 808.1L1228.1 763.3L1233.7 743.7L1240.7 733.9L1247.7 728.3L1256.1 717L1263.1 710L1267.88 708.14L1272.35 710.45L1279.09 720.16L1286.53 740.5L1292.48 771.45L1296.84 814.53L1300.61 862.71L1305.7 915L1307.5 935L1309.3 915L1313.5 881L1318.3 861.4L1322.8 856.3L1325.6 855.8L1330.3 861.4L1335.9 872.6L1341.5 892.2L1347.2 906.2L1350 915L1360 928L1369.6 914L1376.6 909.5L1385.5 909" stroke="#808080" stroke-width="2.5"/>
<path d="M787.5 855.8L794.4 852.9L800.8 846.5L804 842.5L808 839.3L815.2 827.3L823.2 816L831.2 806.4L839.2 799.7L845.7 799.2L852.1 803.2L856.9 810.4L860.9 814.4L863.7 815.7L866.5 811.2L869.7 798.4L873.9 778.8L878.8 756.1L885.2 732.1L892.4 714.5L898 708.9L903.6 707.7L909.2 714.5L914 730.5L918.9 746.5L923.7 764.1L928.9 779.2L935.3 803.2L939.3 827.3L942.5 863.3L944.9 840.1L948.1 800L950.1 778.5L954.1 744.9L959.7 714.5L966.9 690.4L971.7 688L976.5 693.6L980.5 706.5L985.3 724.1L989.3 735.3L994.1 740.1L998.9 743.3L1002.1 756.1L1005.3 772.1L1006.6 778.5L1008.5 808.6L1011 790L1014 766L1018.8 726.5L1024.4 703.5L1030 703.3L1037.2 704.1L1042.8 700L1047.6 696L1050.8 700.8L1054 720.1L1056.4 752.1L1058.1 798.5L1059 830.8L1061 770L1063.3 704L1066.5 640L1067.46 626.2L1069.24 596.15L1071.03 575.11L1074.4 555.58L1078.17 536.04L1081.84 528.53L1086 524.02L1085.21 524.02L1089.38 528.53L1093.05 536.04L1096.81 555.58L1100.19 575.11L1101.97 596.15L1103.76 626.2L1106.3 700L1108.3 800L1109.2 852L1110.2 780L1111.7 720.1L1114.9 665.6L1118.9 656.5L1122.9 664L1126.9 675.2L1133.3 684L1138.9 689.6L1144.5 701.6L1150.1 716.9L1153.3 731.3L1155.7 760.1L1158.9 806.5L1161.3 770L1163.7 744.1L1166.9 723.3L1170.9 707.3L1175.7 701.6L1182.1 695.2L1186.1 686.4L1190 680.8L1195 675.9L1200.04 686.4L1205.99 704.44L1210.45 731.48L1216.3 935L1220 935L1221.1 808.1L1225.3 763.3L1229.5 738.1L1235.1 726.9L1242.1 722.7L1250.5 718.5L1257.5 711.5L1264.5 708.1L1267.88 708.14L1272.35 710.45L1279.09 720.16L1286.53 740.5L1292.48 771.45L1296.84 814.53L1300.61 862.71L1303.5 863L1305.1 865.6L1309.3 861.4L1314.9 850.2L1320.5 844.6L1326.1 846L1331.7 851.6L1338.7 860L1345.7 864.2L1354.1 862L1362.5 858.6L1368.2 856.3L1376.6 855.8L1385.5 857.2" stroke="#585858" stroke-width="0.6"/>
</g>
<rect x="513.9" y="14.6" width="139.3" height="148.5" fill="#fff" stroke="#b2b2b2" stroke-width="1.1"/>
<path d="M524 27.2H577.7" stroke="#000" stroke-width="2.45" fill="none"/>
<path d="M524 53.5H577.7" stroke="#585858" stroke-width="0.6" fill="none"/>
<path d="M524 84.3H577.7" stroke="#a8a8a8" stroke-width="0.6" fill="none"/>
<path d="M524 114.6H577.7" stroke="#000" stroke-width="2.35" stroke-dasharray="6.4 2.7" fill="none"/>
<path d="M524 144.5H577.7" stroke="#808080" stroke-width="2.3" fill="none"/>
<text x="583" y="34.8" class="lg">nominal</text>
<text x="583" y="58" class="lg">d+</text>
<text x="603.1" y="58" class="lm">λ</text>
<text x="613.4" y="65.1" class="sb">0</text>
<text x="621" y="58" class="lg">/10</text>
<text x="583" y="88.8" class="lg">d-</text>
<text x="598.1" y="88.8" class="lm">λ</text>
<text x="608.6" y="95.9" class="sb">0</text>
<text x="616.2" y="88.8" class="lg">/10</text>
<text x="583" y="119.5" class="lg">d+</text>
<text x="603.1" y="119.5" class="lm">λ</text>
<text x="613.4" y="126.6" class="sb">0</text>
<text x="621" y="119.5" class="lg">/5</text>
<text x="583" y="150.2" class="lg">d-</text>
<text x="598.1" y="150.2" class="lm">λ</text>
<text x="608.6" y="157.3" class="sb">0</text>
<text x="616.2" y="150.2" class="lg">/5</text>
<rect x="1238.4" y="15.3" width="138" height="149.2" fill="#fff" stroke="#b2b2b2" stroke-width="1"/>
<path d="M1248.7 28.6H1301.6" stroke="#000" stroke-width="2.45" fill="none"/>
<path d="M1248.7 54.4H1301.6" stroke="#585858" stroke-width="0.6" fill="none"/>
<path d="M1248.7 85.3H1301.6" stroke="#a8a8a8" stroke-width="0.6" fill="none"/>
<path d="M1248.7 115.8H1301.6" stroke="#000" stroke-width="2.35" stroke-dasharray="6.4 2.7" fill="none"/>
<path d="M1248.7 145.6H1301.6" stroke="#808080" stroke-width="2.3" fill="none"/>
<text x="1307.2" y="35.9" class="lg">nominal</text>
<text x="1307.2" y="59.1" class="lg">d+</text>
<text x="1327.3" y="59.1" class="lm">λ</text>
<text x="1337.6" y="66.2" class="sb">0</text>
<text x="1345.2" y="59.1" class="lg">/10</text>
<text x="1307.2" y="89.9" class="lg">d-</text>
<text x="1322.3" y="89.9" class="lm">λ</text>
<text x="1332.8" y="97" class="sb">0</text>
<text x="1340.4" y="89.9" class="lg">/10</text>
<text x="1307.2" y="120.6" class="lg">d+</text>
<text x="1327.3" y="120.6" class="lm">λ</text>
<text x="1337.6" y="127.7" class="sb">0</text>
<text x="1345.2" y="120.6" class="lg">/5</text>
<text x="1307.2" y="151.3" class="lg">d-</text>
<text x="1322.3" y="151.3" class="lm">λ</text>
<text x="1332.8" y="158.4" class="sb">0</text>
<text x="1340.4" y="151.3" class="lg">/5</text>
<rect x="394.4" y="522.6" width="244.4" height="70.7" fill="#fff" stroke="#b2b2b2" stroke-width="1"/>
<path d="M404.2 535.4H456.1" stroke="#000" stroke-width="2.45" fill="none"/>
<path d="M404.2 557.7H456.1" stroke="#808080" stroke-width="2.5" fill="none"/>
<path d="M404.2 579.4H456.1" stroke="#585858" stroke-width="0.6" fill="none"/>
<text x="461.9" y="543.4" class="lc">Nominal</text>
<text x="461.9" y="565.6" class="lc" textLength="147" lengthAdjust="spacing">10% power unbalance</text>
<text x="461.9" y="586.9" class="lc" textLength="147" lengthAdjust="spacing">25% power unbalance</text>
<rect x="1128.5" y="519.4" width="236.1" height="78.2" fill="#fff" stroke="#b2b2b2" stroke-width="1"/>
<path d="M1139 533.3H1191.7" stroke="#000" stroke-width="2.45" fill="none"/>
<path d="M1139 558.6H1191.7" stroke="#808080" stroke-width="2.5" fill="none"/>
<path d="M1139 582.1H1191.7" stroke="#585858" stroke-width="0.6" fill="none"/>
<text x="1197.5" y="541.9" class="lc">Nominal</text>
<text x="1197.5" y="566.5" class="lc" textLength="138.8" lengthAdjust="spacing">10° phase unbalance</text>
<text x="1197.5" y="590" class="lc" textLength="138.8" lengthAdjust="spacing">20° phase unbalance</text>
</svg>
</body></html>
